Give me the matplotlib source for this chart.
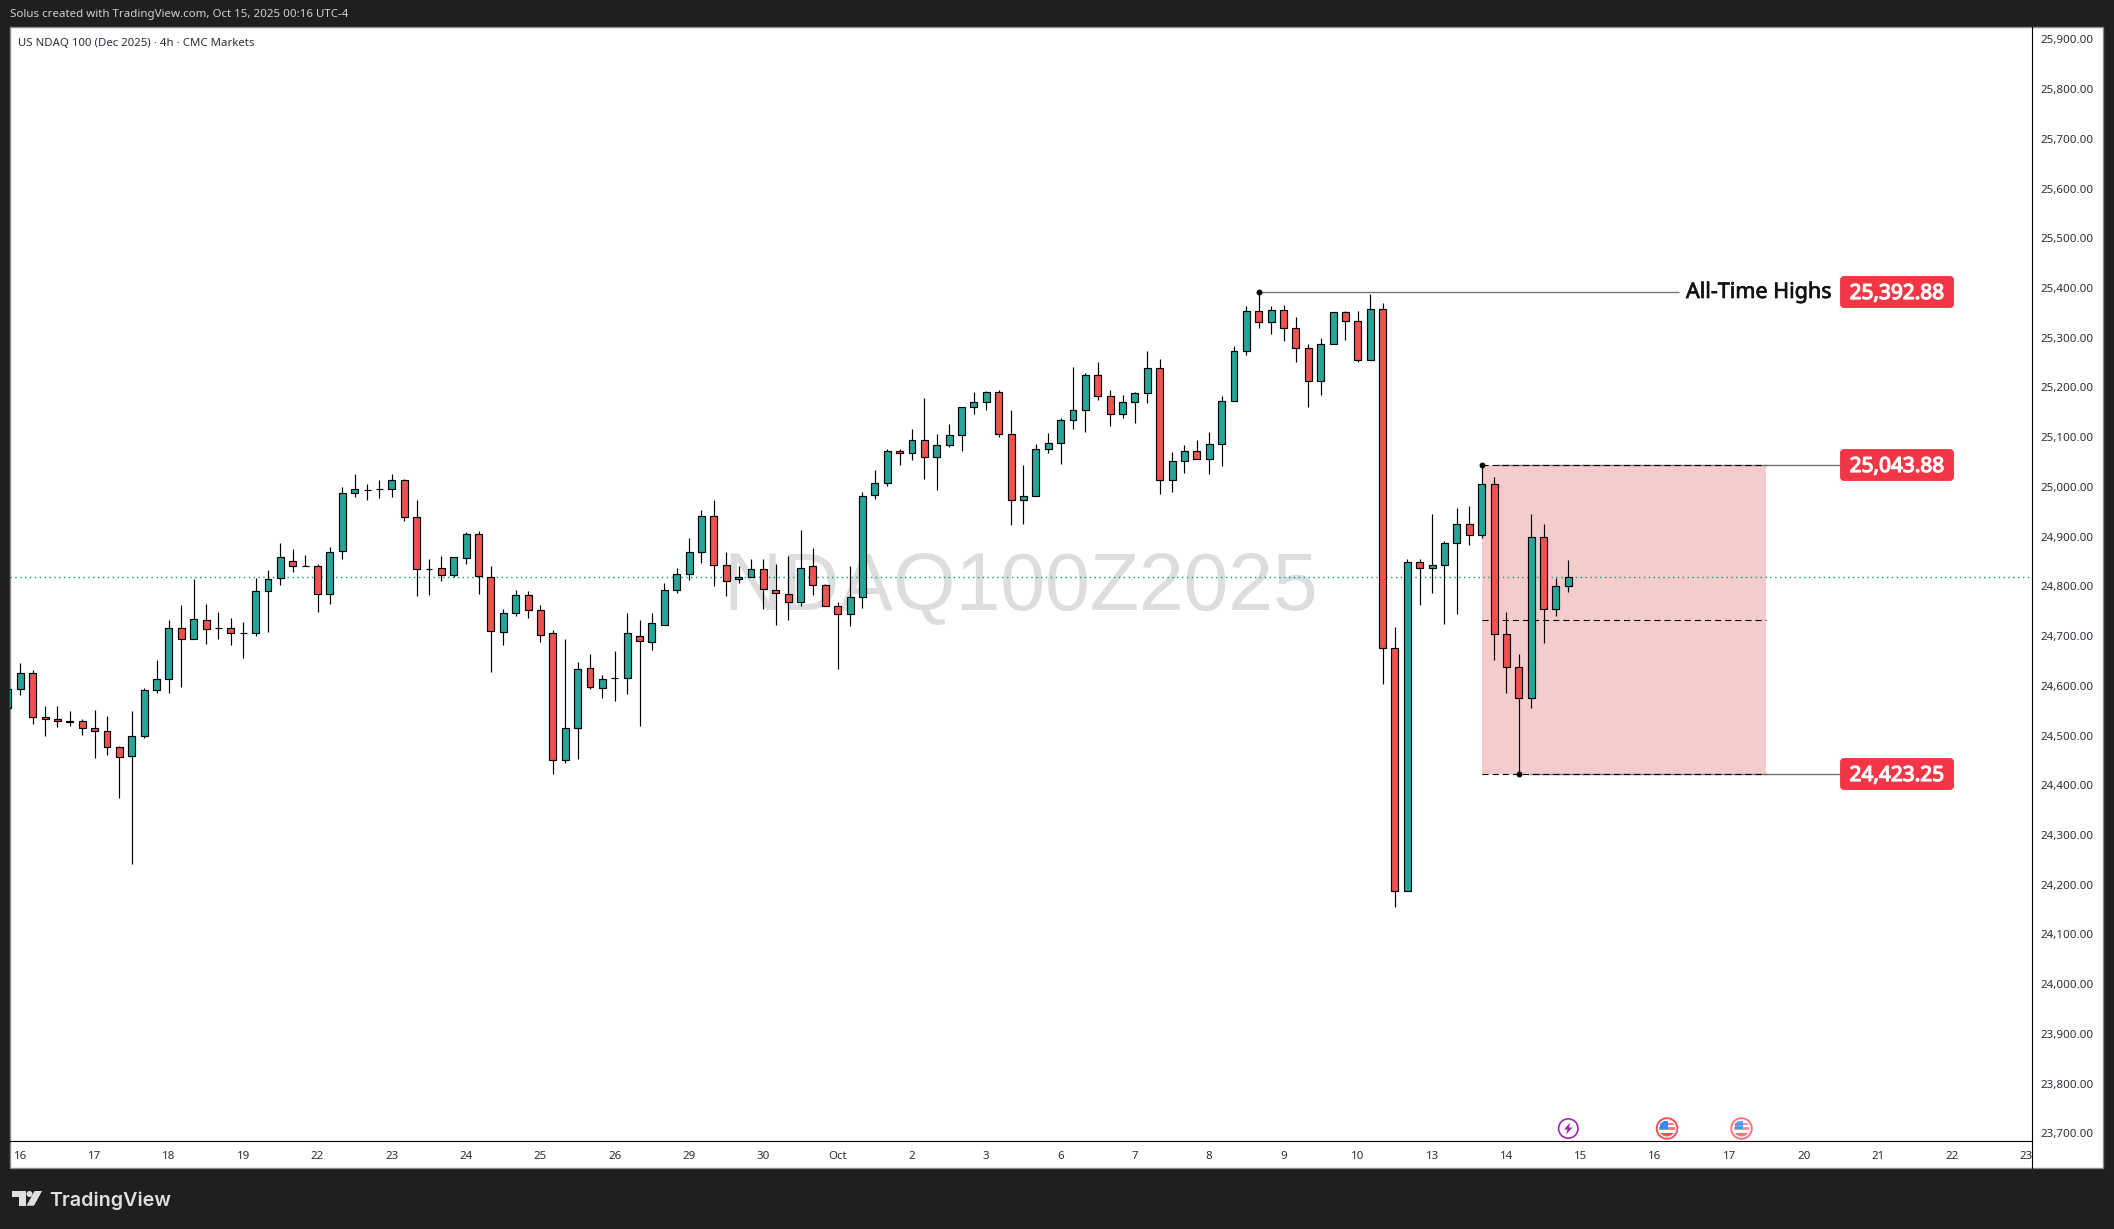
import matplotlib
matplotlib.use("Agg")
import matplotlib.pyplot as plt
import matplotlib.patheffects as pe
from matplotlib.patches import Rectangle, FancyBboxPatch, Circle, Polygon
from matplotlib.transforms import Affine2D

W, H = 2114, 1229
opens = [24555,24593,24625,24537,24533,24529,24529,24516,24510,24476,24458,24500,24591,24613,24716,24695,24732,24716,24716,24706,
24706,24790,24816,24852,24842,24840,24784,24872,24987,24993,24995,24995,25013,24939,24834,24836,24822,24858,24905,24818,
24708,24746,24782,24752,24706,24450,24516,24635,24595,24615,24615,24701,24689,24722,24792,24824,24870,24941,24844,24814,
24818,24834,24792,24784,24768,24840,24802,24760,24744,24778,24983,25007,25072,25068,25094,25061,25084,25104,25160,25170,
25190,25106,24973,24981,25076,25088,25134,25154,25226,25182,25146,25170,25188,25240,25013,25053,25072,25057,25086,25172,
25273,25353,25331,25355,25319,25279,25214,25287,25351,25333,25255,25357,24677,24187,24850,24836,24844,24887,24925,24903,
25005,24704,24637,24575,24899,24754,24800]
highs = [24593,24645,24632,24559,24559,24549,24533,24551,24539,24479,24549,24595,24652,24732,24762,24815,24764,24748,24736,24728,
24817,24833,24887,24875,24863,24846,24879,25000,25026,25006,25014,25026,25015,24974,24855,24861,24860,24909,24911,24841,
24754,24793,24791,24762,24712,24695,24647,24664,24622,24670,24746,24732,24746,24807,24837,24897,24954,24974,24869,24841,
24855,24855,24845,24861,24913,24877,24805,24768,24841,24990,25034,25076,25076,25116,25179,25106,25127,25160,25190,25192,
25194,25154,25044,25086,25108,25138,25241,25230,25251,25195,25185,25191,25273,25257,25070,25084,25094,25110,25183,25283,
25364,25392.88,25364,25366,25342,25287,25299,25351,25354,25354,25388,25370,24718,24855,24855,24946,24891,24957,24962,25043.88,
25020,24748,24664,24946,24925,24817,24854]
lows = [24555,24581,24523,24500,24518,24519,24502,24455,24461,24375,24242,24496,24586,24586,24598,24695,24685,24695,24683,24655,
24701,24709,24803,24828,24840,24749,24765,24856,24980,24974,24978,24980,24932,24781,24783,24811,24819,24846,24785,24628,
24683,24741,24737,24689,24423,24445,24453,24594,24576,24570,24584,24520,24673,24722,24787,24813,24848,24801,24781,24806,
24818,24755,24723,24733,24761,24783,24760,24634,24721,24757,24976,25002,25045,25055,25015,24994,25080,25073,25147,25155,
25101,24924,24926,24981,25069,25047,25117,25111,25175,25123,25139,25129,25169,24986,24990,25029,25057,25027,25043,25172,
25266,25320,25308,25294,25252,25161,25184,25287,25296,25252,25255,24604,24156,24187,24763,24787,24725,24745,24884,24898,
24651,24586,24423.25,24556,24687,24741,24789]
closes = [24593,24625,24537,24533,24529,24528,24516,24510,24476,24456,24500,24591,24613,24716,24695,24734,24714,24716,24706,24706,
24790,24814,24860,24842,24840,24784,24870,24987,24995,24993,24995,25013,24939,24834,24834,24822,24860,24905,24820,24710,
24746,24782,24752,24703,24450,24516,24633,24597,24613,24615,24706,24691,24726,24792,24824,24870,24941,24844,24810,24818,
24834,24794,24786,24768,24836,24802,24760,24744,24778,24981,25007,25072,25068,25094,25061,25084,25104,25160,25170,25190,
25106,24973,24981,25076,25088,25134,25154,25226,25182,25146,25170,25188,25240,25013,25053,25072,25057,25086,25172,25273,
25353,25331,25355,25319,25279,25214,25287,25351,25333,25255,25357,24677,24187,24850,24836,24844,24887,24925,24903,25005,
24704,24637,24575,24899,24754,24800,24818]
time_labels = ["16","17","18","19","22","23","24","25","26","29","30","Oct","2","3","6","7","8","9","10","13","14","15","16","17","20","21","22","23"]
price_ticks = [23700,23800,23900,24000,24100,24200,24300,24400,24500,24600,24700,24800,24900,25000,25100,25200,25300,25400,25500,25600,25700,25800,25900]
ath_level = 25392.88
range_high = 25043.88
range_low = 24423.25
range_mid = 24732
last_price = 24818.8

DARK = "#1f1f1f"; GREEN = "#26a69a"; RED = "#ef5350"; LINE = "#787878"; TAG = "#f23645"
FONT = "Noto Sans"
plt.rcParams["font.family"] = [FONT, "DejaVu Sans"]

fig = plt.figure(figsize=(W/100, H/100), dpi=100, facecolor=DARK)
t = Affine2D().scale(1, -1).translate(0, H)   # top-left pixel coordinates for the page furniture

fig.add_artist(Rectangle((10, 27), 2093, 1141, fc="white", ec="#8a8a8a", lw=1, transform=t, zorder=0))

L, T, R, B = 10, 27, 2032, 1141
ax = fig.add_axes([L/W, 1-B/H, (R-L)/W, (B-T)/H], facecolor="none", zorder=2)
ax.set_xlim(0.166, 163.44)
ax.set_ylim(23684.6, 25925)
for s in ("top", "left"):
    ax.spines[s].set_visible(False)
ax.spines["right"].set_linewidth(0.8)
ax.spines["bottom"].set_linewidth(0.8)

# axes
ax.yaxis.tick_right()
ax.set_yticks(price_ticks, [f"{v:,.2f}" for v in price_ticks])
ax.tick_params(axis="y", length=0, pad=6, labelsize=8.3, labelcolor="#2a2e39")
ax.set_xticks([1 + 6*k for k in range(len(time_labels))], time_labels)
ax.tick_params(axis="x", length=0, pad=7, labelsize=8.3, labelcolor="#2a2e39")
for lab in ax.get_xticklabels():
    lab.set_clip_on(False)

# watermark
ax.text(1021, 589, "NDAQ100Z2025", transform=t, ha="center", va="center", family="Liberation Sans",
        fontsize=58, color="#dcdddf", zorder=0.5)

# risk box and levels
x = list(range(len(opens)))
ax.add_patch(Rectangle((119, range_low), 23, range_high-range_low, fc="#f4cccc", ec="none", zorder=1))
ax.axhline(last_price, color="#089981", lw=1.0, ls=(0, (1, 2.5)), zorder=1.5)
ax.plot([101, 134.9], [ath_level]*2, color=LINE, lw=1.0, zorder=2, solid_capstyle="butt")
ax.plot([120.2, 147.9], [range_high]*2, color=LINE, lw=1.0, zorder=2, solid_capstyle="butt")
ax.plot([122.9, 147.9], [range_low]*2, color=LINE, lw=1.0, zorder=2, solid_capstyle="butt")
for lvl in (range_high, range_mid, range_low):
    ax.plot([119, 142], [lvl]*2, color="black", lw=0.8, ls=(0, (5.5, 3.6)), zorder=2.2)

# candles
colors = [GREEN if c >= o else RED for o, c in zip(opens, closes)]
ax.vlines(x, lows, highs, color="black", lw=0.85, zorder=3)
ax.bar(x, [c-o for o, c in zip(opens, closes)], bottom=opens, width=0.56, color=colors,
       edgecolor="black", linewidth=0.85, zorder=4)
ax.plot([101, 119, 122], [ath_level, range_high, range_low], ls="none", marker="o", ms=3.2, color="black", zorder=5)

# price tags
for y0, txt in ((276, "25,392.88"), (449, "25,043.88"), (758, "24,423.25")):
    fig.add_artist(FancyBboxPatch((1842, y0+2), 110, 28, boxstyle="round,pad=0,rounding_size=2", mutation_aspect=1,
                                  fc=TAG, ec=TAG, lw=2.8, transform=t, zorder=6))
    fig.text(1897, y0+17.5, txt, transform=t, ha="center", va="center", color="white", fontsize=15, zorder=7,
             path_effects=[pe.withStroke(linewidth=0.9, foreground="white")])
fig.text(1686, 292.5, "All-Time Highs", transform=t, ha="left", va="center", fontsize=15.5, color="#111111", zorder=7,
         path_effects=[pe.withStroke(linewidth=0.5, foreground="#111111")])

# header / footer text
fig.text(10, 15, "Solus created with TradingView.com, Oct 15, 2025 00:16 UTC-4", transform=t, ha="left", va="center",
         fontsize=8.3, color="#d0d0d0")
fig.text(18, 43.5, "US NDAQ 100 (Dec 2025) · 4h · CMC Markets", transform=t, ha="left", va="center",
         fontsize=8.2, color="#2a2e39", zorder=7)
fig.text(49, 1200.5, "TradingView", transform=t, ha="left", va="center", fontsize=14.2, color="#e0e0e0",
         family="Inter", fontweight="semibold")
LOGO = "#e0e0e0"
fig.add_artist(Polygon([(12, 1191), (25.7, 1191), (25.7, 1205.7), (18.7, 1205.7), (18.7, 1196.7), (12, 1196.7)],
                       fc=LOGO, ec="none", transform=t))
fig.add_artist(Circle((29.5, 1194), 3, fc=LOGO, ec="none", transform=t))
fig.add_artist(Polygon([(34.5, 1191), (42, 1191), (34, 1205.7), (26.5, 1205.7)], fc=LOGO, ec="none", transform=t))

# event icons
fig.add_artist(Circle((1568.3, 1128.5), 9.7, fc="white", ec="#9c27b0", lw=1.2, transform=t, zorder=6))
fig.add_artist(Polygon([(1570, 1122.5), (1564, 1129.5), (1567.5, 1129.5), (1566, 1134.5), (1572.5, 1127.5), (1569, 1127.5)],
                       fc="#9c27b0", ec="none", transform=t, zorder=7))
for cx, alpha in ((1667, 1.0), (1741.5, 0.8)):
    ring = Circle((cx, 1128.5), 10.3, fc="white", ec="#f7525f", lw=1.4, alpha=alpha, transform=t, zorder=6)
    fig.add_artist(ring)
    clip = Circle((cx, 1128.5), 8, transform=t)
    for (rx, ry, rw, rh, col) in ((cx-8, 1127, 16, 2.5, "#f77c80"), (cx-8, 1122.5, 16, 2, "#f77c80"),
                                  (cx-8, 1132.5, 16, 5, "#f7525f"), (cx-7, 1120.5, 8, 8, "#2f8ff0")):
        p = Rectangle((rx, ry), rw, rh, fc=col, ec="none", alpha=alpha, transform=t, zorder=7)
        fig.add_artist(p)
        p.set_clip_path(clip)

# price axis rule through the time strip
fig.add_artist(plt.Line2D([2032, 2032], [1141, 1168], color="black", lw=0.8, transform=t, zorder=6))

fig.savefig("out.png", dpi=100, facecolor=DARK)
